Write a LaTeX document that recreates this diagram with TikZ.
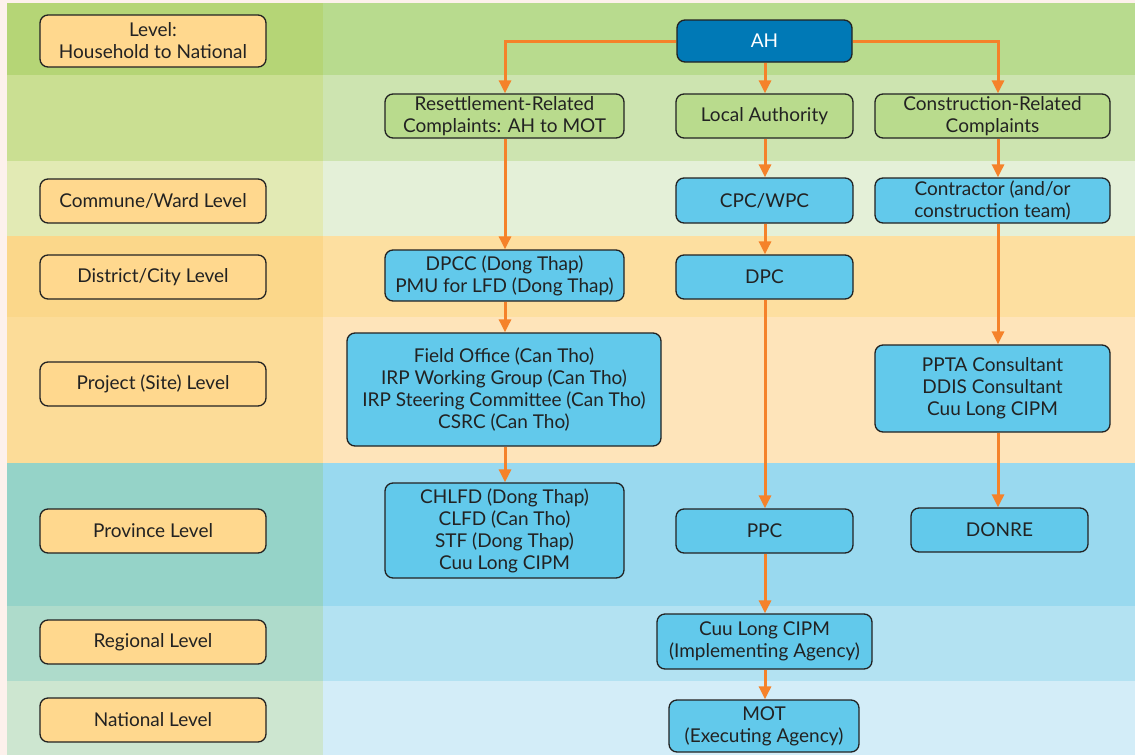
\documentclass[tikz,border=0pt]{standalone}
\usepackage{fontspec}
\setmainfont{Lato}
\usetikzlibrary{arrows.meta}
\definecolor{pagebg}{HTML}{FDF1EC}
\definecolor{aL}{HTML}{B5D576}\definecolor{aR}{HTML}{B8DB8E}
\definecolor{bL}{HTML}{CADF92}\definecolor{bR}{HTML}{CDE4B0}
\definecolor{cL}{HTML}{E2EAB4}\definecolor{cR}{HTML}{E4F0D8}
\definecolor{dL}{HTML}{FBD78A}\definecolor{dR}{HTML}{FDDFA0}
\definecolor{eL}{HTML}{FCDC98}\definecolor{eR}{HTML}{FEE4BA}
\definecolor{fL}{HTML}{95D3C8}\definecolor{fR}{HTML}{99D9EF}
\definecolor{gL}{HTML}{AEDBCB}\definecolor{gR}{HTML}{B3E2F2}
\definecolor{hL}{HTML}{CDE6D0}\definecolor{hR}{HTML}{D3EDF8}
\definecolor{lvlfill}{HTML}{FFD88E}
\definecolor{greenfill}{HTML}{B9DB8D}
\definecolor{bluefill}{HTML}{62C9EB}
\definecolor{ahfill}{HTML}{0079B6}
\definecolor{arrc}{HTML}{F5822A}
\definecolor{txt}{HTML}{222222}
\tikzset{
  base/.style={draw=txt, line width=1.3pt, rounded corners=8pt, align=center,
    text=txt, font=\fontsize{19}{22}\selectfont, inner sep=2pt},
  lvl/.style={base, fill=lvlfill, minimum width=226pt, minimum height=44pt},
  gbox/.style={base, fill=greenfill},
  bbox/.style={base, fill=bluefill},
  ahbox/.style={base, fill=ahfill, text=white},
  arr/.style={draw=arrc, line width=3pt, -{Triangle[length=13pt,width=12pt]}}
}
\begin{document}
\begin{tikzpicture}[x=1pt,y=-1pt]
\useasboundingbox (0,0) rectangle (1135,755);
\fill[pagebg] (0,0) rectangle (1135,755);
% bands
\fill[aL] (7,3) rectangle (323,75);   \fill[aR] (323,3) rectangle (1135,75);
\fill[bL] (7,75) rectangle (323,161); \fill[bR] (323,75) rectangle (1135,161);
\fill[cL] (7,161) rectangle (323,236); \fill[cR] (323,161) rectangle (1135,236);
\fill[dL] (7,236) rectangle (323,317); \fill[dR] (323,236) rectangle (1135,317);
\fill[eL] (7,317) rectangle (323,463); \fill[eR] (323,317) rectangle (1135,463);
\fill[fL] (7,463) rectangle (323,606); \fill[fR] (323,463) rectangle (1135,606);
\fill[gL] (7,606) rectangle (323,681); \fill[gR] (323,606) rectangle (1135,681);
\fill[hL] (7,681) rectangle (323,755); \fill[hR] (323,681) rectangle (1135,755);
% level labels
\node[lvl, minimum height=52pt] (l0) at (153,41) {Level:\\Household to National};
\node[lvl] (l1) at (153,201) {Commune/Ward Level};
\node[lvl] (l2) at (153,277) {District/City Level};
\node[lvl] (l3) at (153,384) {Project (Site) Level};
\node[lvl] (l4) at (153,531) {Province Level};
\node[lvl] (l5) at (153,642) {Regional Level};
\node[lvl] (l6) at (153,720) {National Level};
% main nodes
\node[ahbox, minimum width=175pt, minimum height=42pt] (ah) at (764.5,41) {AH};
\node[gbox, minimum width=239pt, minimum height=44pt] (res) at (504.5,116) {Resettlement-Related\\Complaints: AH to MOT};
\node[gbox, minimum width=177pt, minimum height=44pt] (la) at (764.5,116) {Local Authority};
\node[gbox, minimum width=235pt, minimum height=44pt] (con) at (992.5,116) {Construction-Related\\Complaints};
\node[bbox, minimum width=177pt, minimum height=45pt] (cpc) at (764.5,200.5) {CPC/WPC};
\node[bbox, minimum width=235pt, minimum height=45pt] (contr) at (992.5,200.5) {Contractor (and/or\\construction team)};
\node[bbox, minimum width=239pt, minimum height=51pt] (dpcc) at (504.5,275.5) {DPCC (Dong Thap)\\PMU for LFD (Dong Thap)};
\node[bbox, minimum width=177pt, minimum height=44pt] (dpc) at (764.5,277) {DPC};
\node[bbox, minimum width=314pt, minimum height=113pt] (fo) at (504,389.5) {Field Office (Can Tho)\\IRP Working Group (Can Tho)\\IRP Steering Committee (Can Tho)\\CSRC (Can Tho)};
\node[bbox, minimum width=235pt, minimum height=87pt] (ppta) at (992.5,388.5) {PPTA Consultant\\DDIS Consultant\\Cuu Long CIPM};
\node[bbox, minimum width=239pt, minimum height=95pt] (chlfd) at (504.5,530.5) {CHLFD (Dong Thap)\\CLFD (Can Tho)\\STF (Dong Thap)\\Cuu Long CIPM};
\node[bbox, minimum width=177pt, minimum height=44pt] (ppc) at (764.5,531) {PPC};
\node[bbox, minimum width=177pt, minimum height=44pt] (donre) at (999.5,530) {DONRE};
\node[bbox, minimum width=215pt, minimum height=55pt] (cipm) at (764.5,641.5) {Cuu Long CIPM\\(Implementing Agency)};
\node[bbox, minimum width=190pt, minimum height=52pt] (mot) at (764,726) {MOT\\(Executing Agency)};
\coordinate (rc) at (998,0);
\coordinate (mc) at (765,0);
\coordinate (lc) at (505,0);
% connectors
\draw[arr] (ah.west) -| (res.north -| lc);
\draw[arr] (ah.east) -| (con.north -| rc);
\draw[arr] (ah.south -| mc) -- (la.north -| mc);
\draw[arr] (res.south -| lc) -- (dpcc.north -| lc);
\draw[arr] (dpcc.south -| lc) -- (fo.north -| lc);
\draw[arr] (fo.south -| lc) -- (chlfd.north -| lc);
\draw[arr] (la.south -| mc) -- (cpc.north -| mc);
\draw[arr] (cpc.south -| mc) -- (dpc.north -| mc);
\draw[arr] (dpc.south -| mc) -- (ppc.north -| mc);
\draw[arr] (ppc.south -| mc) -- (cipm.north -| mc);
\draw[arr] (cipm.south -| mc) -- (mot.north -| mc);
\draw[arr] (con.south -| rc) -- (contr.north -| rc);
\draw[arr] (contr.south -| rc) -- (ppta.north -| rc);
\draw[arr] (ppta.south -| rc) -- (donre.north -| rc);
\end{tikzpicture}
\end{document}
